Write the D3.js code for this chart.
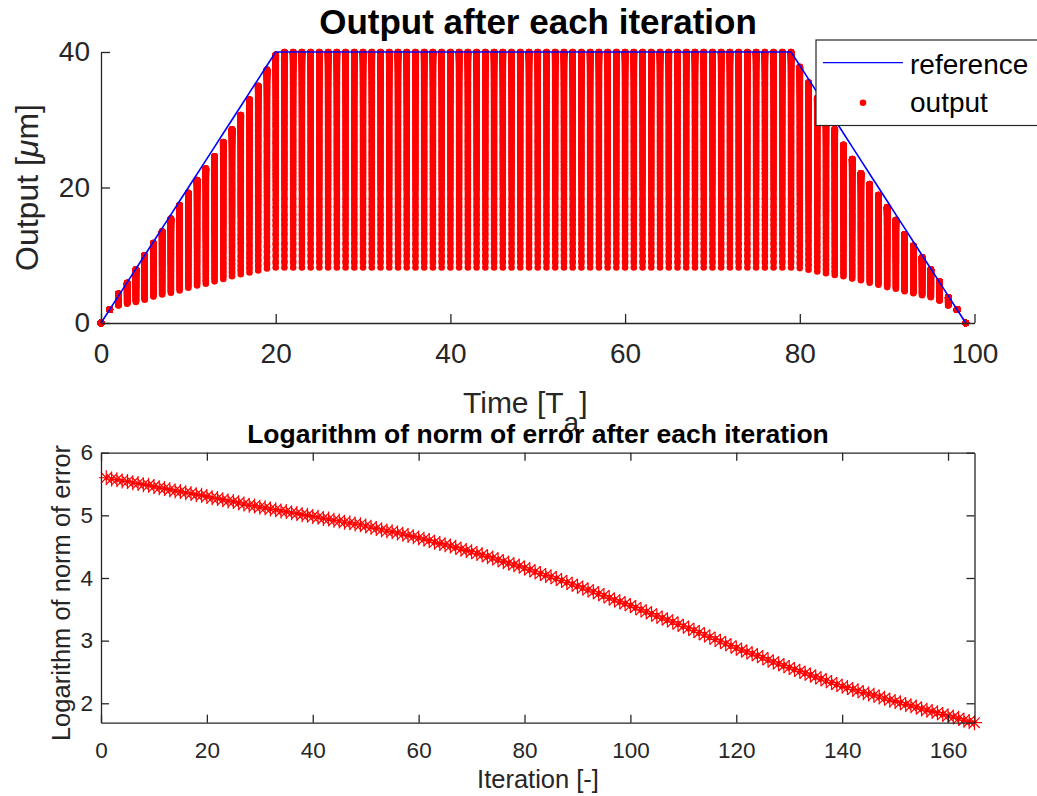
<!DOCTYPE html>
<html><head><meta charset="utf-8">
<script src="https://cdn.jsdelivr.net/npm/d3@7"></script>
<style>
html,body{margin:0;padding:0;background:#fff;}
text{font-family:"Liberation Sans",Arial,Helvetica,sans-serif;}
</style></head>
<body><svg id="chart" width="1037" height="796"></svg>
<script>
// ---------- DATA ----------
// Top chart: reference trajectory (time steps 0..99)
const reference = [0,2,4,6,8,10,12,14,16,18,20,22,24,26,28,30,32,34,36,38,40,
40,40,40,40,40,40,40,40,40,40,
40,40,40,40,40,40,40,40,40,40,
40,40,40,40,40,40,40,40,40,40,
40,40,40,40,40,40,40,40,40,40,
40,40,40,40,40,40,40,40,40,40,
40,40,40,40,40,40,40,40,40,
38,36,34,32,30,28,26,24,22,20,18,16,14,12,10,8,6,4,2,0];
// output of the first iteration (bottom of each column)
const firstOutput = [0,1.95,2.6,2.85,3.1,3.45,3.9,4.2,4.45,4.8,5.2,5.55,5.8,6.15,6.5,6.9,7.2,7.45,7.75,8.05,8.2,
8.2,8.2,8.2,8.2,8.2,8.2,8.2,8.2,8.2,8.2,
8.2,8.2,8.2,8.2,8.2,8.2,8.2,8.2,8.2,8.2,
8.2,8.2,8.2,8.2,8.2,8.2,8.2,8.2,8.2,8.2,
8.2,8.2,8.2,8.2,8.2,8.2,8.2,8.2,8.2,8.2,
8.2,8.2,8.2,8.2,8.2,8.2,8.2,8.2,8.2,8.2,
8.2,8.2,8.2,8.2,8.2,8.2,8.2,8.2,8.2,
8.1,7.85,7.6,7.35,7.1,6.9,6.55,6.3,5.95,5.65,5.3,5.05,4.7,4.4,4.1,3.8,3.3,2.6,1.95,0];
// output of the last iteration (top of each column)
const lastOutput = [0,2.0,4.3,5.9,7.9,10.0,11.8,13.5,15.4,17.4,19.2,21.1,22.8,24.6,26.7,28.6,30.7,33.0,35.0,37.4,39.6,
40,40,40,40,40,40,40,40,40,40,
40,40,40,40,40,40,40,40,40,40,
40,40,40,40,40,40,40,40,40,40,
40,40,40,40,40,40,40,40,40,40,
40,40,40,40,40,40,40,40,40,40,
40,40,40,40,40,40,40,40,40,
37.8,35.5,33.2,30.9,28.6,26.3,24.2,22.1,20.5,18.9,17.1,15.2,13.1,11.4,9.7,7.9,6.1,3.8,2.0,0];
// Bottom chart: logarithm of norm of error, iterations 1..165
const logError = [
5.60,5.58,5.57,5.55,5.54,5.52,5.51,5.49,5.48,5.46,
5.44,5.43,5.41,5.39,5.38,5.36,5.35,5.33,5.32,5.30,
5.28,5.27,5.25,5.23,5.22,5.20,5.18,5.16,5.15,5.13,
5.12,5.10,5.09,5.07,5.06,5.04,5.03,5.01,5.00,4.98,
4.97,4.95,4.94,4.92,4.91,4.89,4.88,4.86,4.85,4.83,
4.81,4.79,4.77,4.75,4.74,4.72,4.70,4.68,4.66,4.64,
4.62,4.60,4.57,4.55,4.53,4.51,4.49,4.46,4.44,4.42,
4.39,4.37,4.34,4.32,4.29,4.26,4.24,4.21,4.19,4.16,
4.13,4.10,4.07,4.04,4.02,3.99,3.96,3.93,3.90,3.87,
3.84,3.81,3.78,3.75,3.72,3.68,3.65,3.62,3.59,3.56,
3.53,3.49,3.46,3.43,3.39,3.36,3.33,3.30,3.26,3.23,
3.20,3.16,3.13,3.09,3.06,3.02,2.99,2.95,2.92,2.88,
2.85,2.82,2.79,2.76,2.73,2.69,2.66,2.63,2.60,2.57,
2.54,2.51,2.48,2.45,2.42,2.39,2.36,2.33,2.30,2.27,
2.25,2.22,2.20,2.17,2.15,2.13,2.10,2.08,2.05,2.03,
2.01,1.98,1.96,1.94,1.91,1.89,1.87,1.85,1.82,1.80,
1.78,1.76,1.73,1.71,1.69];
// tick labels
const topXTicks = [0,20,40,60,80,100];
const topYTicks = [0,20,40];
const botXTicks = [0,20,40,60,80,100,120,140,160];
const botYTicks = [2,3,4,5,6];
const legendLabels = ["reference","output"];

// ---------- DRAW ----------
const svg = d3.select("#chart");
const axisColor = "#262626";

// Top scales
const xTop = d3.scaleLinear().domain([0,100]).range([101,974.5]);
const yTop = d3.scaleLinear().domain([0,40]).range([323,52]);

// outputs per iteration: spread between first and last output following error decay
const E = logError.map(v => Math.exp(v));
const E0 = E[0], En = E[E.length-1];
const dots = [];
for (let i = 0; i < logError.length; i++) {
  const f = (E[i] - En) / (E0 - En);
  for (let t = 0; t < reference.length; t++) {
    dots.push({t, v: lastOutput[t] + (firstOutput[t] - lastOutput[t]) * f});
  }
}
const gTop = svg.append("g");
gTop.append("g").selectAll("circle").data(dots).join("circle")
  .attr("cx", d => xTop(d.t)).attr("cy", d => yTop(d.v)).attr("r", 3.3)
  .attr("fill", "#ff0000");

gTop.append("path").datum(reference)
  .attr("d", d3.line().x((d,i) => xTop(i)).y(d => yTop(d)))
  .attr("fill","none").attr("stroke","#0000ff").attr("stroke-width",1.6);

function styleAxis(g, fs) {
  g.select(".domain").attr("stroke", axisColor).attr("stroke-width", 1.3);
  g.selectAll(".tick line").attr("stroke", axisColor).attr("stroke-width", 1.3);
  g.selectAll(".tick text").attr("fill", axisColor).attr("font-size", fs)
    .attr("font-family", '"Liberation Sans",Arial,sans-serif');
}
const axTopX = gTop.append("g").attr("transform","translate(0,323)")
  .call(d3.axisBottom(xTop).tickValues(topXTicks).tickFormat(d3.format("d")).tickSizeInner(-9).tickSizeOuter(0).tickPadding(20));
styleAxis(axTopX, 28);
const axTopY = gTop.append("g").attr("transform","translate(101,0)")
  .call(d3.axisLeft(yTop).tickValues(topYTicks).tickFormat(d3.format("d")).tickSizeInner(-9).tickSizeOuter(0).tickPadding(11));
styleAxis(axTopY, 28);

// Title, labels
svg.append("text").attr("x", 538).attr("y", 34).attr("text-anchor","middle")
  .attr("font-size", 35).attr("font-weight","bold").attr("fill","#000")
  .text("Output after each iteration");
const yl = svg.append("text").attr("transform","translate(38,187.5) rotate(-90)")
  .attr("text-anchor","middle").attr("font-size",32).attr("fill",axisColor);
yl.append("tspan").text("Output [");
yl.append("tspan").attr("font-style","italic").text("\u03bc");
yl.append("tspan").text("m]");
const xl = svg.append("text").attr("x",463).attr("y",413).attr("font-size",30).attr("fill",axisColor);
xl.append("tspan").text("Time [T");
xl.append("tspan").attr("dy",19).attr("font-size",28).text("a");
xl.append("tspan").attr("dy",-19).text("]");

// Legend
const lg = svg.append("g");
lg.append("rect").attr("x",816).attr("y",40).attr("width",240).attr("height",85.5)
  .attr("fill","#fff").attr("stroke",axisColor).attr("stroke-width",1.2);
lg.append("line").attr("x1",823).attr("x2",903).attr("y1",62.7).attr("y2",62.7)
  .attr("stroke","#0000ff").attr("stroke-width",1.2);
lg.append("circle").attr("cx",863).attr("cy",102.7).attr("r",3.3).attr("fill","#ff0000");
lg.selectAll("text.lt").data(legendLabels).join("text").attr("class","lt")
  .attr("x",910).attr("y",(d,i) => i === 0 ? 74 : 111.7)
  .attr("font-size",28).attr("fill","#000").text(d => d);

// Bottom chart
const yMin = d3.min(logError);
const xBot = d3.scaleLinear().domain([0,165]).range([101,974.5]);
const yBot = d3.scaleLinear().domain([yMin,6]).range([722.7,452.7]);
const gBot = svg.append("g");
const star = "M-7.5,0H7.5M0,-7.5V7.5M-5.3,-5.3L5.3,5.3M-5.3,5.3L5.3,-5.3";
gBot.append("g").selectAll("path").data(logError).join("path")
  .attr("d", star)
  .attr("transform", (d,i) => `translate(${xBot(i+1)},${yBot(d)})`)
  .attr("fill","none").attr("stroke","#ff0000").attr("stroke-width",1.2);

const axBX = gBot.append("g").attr("transform","translate(0,722.7)")
  .call(d3.axisBottom(xBot).tickValues(botXTicks).tickFormat(d3.format("d")).tickSizeInner(-8).tickSizeOuter(0).tickPadding(19));
styleAxis(axBX, 22.5);
const axBY = gBot.append("g").attr("transform","translate(101,0)")
  .call(d3.axisLeft(yBot).tickValues(botYTicks).tickFormat(d3.format("d")).tickSizeInner(-8).tickSizeOuter(0).tickPadding(8));
styleAxis(axBY, 22.5);
const axBT = gBot.append("g").attr("transform","translate(0,452.7)")
  .call(d3.axisTop(xBot).tickValues(botXTicks).tickSizeInner(-8).tickSizeOuter(0).tickFormat(""));
styleAxis(axBT, 22.5);
const axBR = gBot.append("g").attr("transform","translate(974.5,0)")
  .call(d3.axisRight(yBot).tickValues(botYTicks).tickSizeInner(-8).tickSizeOuter(0).tickFormat(""));
styleAxis(axBR, 22.5);

svg.append("text").attr("x",538).attr("y",443).attr("text-anchor","middle")
  .attr("font-size",26.5).attr("font-weight","bold").attr("fill","#000")
  .text("Logarithm of norm of error after each iteration");
svg.append("text").attr("transform","translate(70,593) rotate(-90)")
  .attr("text-anchor","middle").attr("font-size",25.5).attr("fill",axisColor)
  .text("Logarithm of norm of error");
svg.append("text").attr("x",538).attr("y",788).attr("text-anchor","middle")
  .attr("font-size",25.5).attr("fill",axisColor).text("Iteration [-]");
</script></body></html>
